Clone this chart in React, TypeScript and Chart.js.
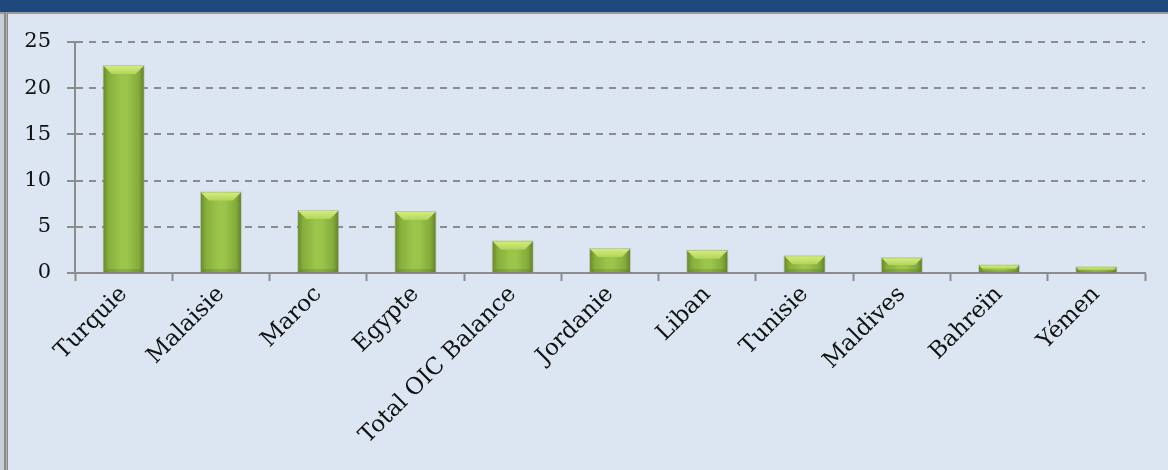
import React, { useEffect, useRef } from "react";
import { Chart, registerables } from "chart.js";

Chart.register(...registerables);

const categories = [
  "Turquie",
  "Malaisie",
  "Maroc",
  "Egypte",
  "Total OIC Balance",
  "Jordanie",
  "Liban",
  "Tunisie",
  "Maldives",
  "Bahreïn",
  "Yémen",
];
const values = [22.4, 8.7, 6.7, 6.6, 3.4, 2.6, 2.4, 1.8, 1.6, 0.8, 0.6];
const yTicks = [0, 5, 10, 15, 20, 25];

const W = 1168;
const H = 470;
const FONT = "'DejaVu Serif', 'Liberation Serif', serif";

const bevelBars = {
  id: "bevelBars",
  afterDatasetsDraw(chart: any) {
    const ctx = chart.ctx as CanvasRenderingContext2D;
    const meta = chart.getDatasetMeta(0);
    meta.data.forEach((bar: any) => {
      const p = bar.getProps(["x", "y", "base", "width"], true);
      const left = p.x - p.width / 2;
      const right = p.x + p.width / 2;
      const top = Math.min(p.y, p.base);
      const bottom = Math.max(p.y, p.base);
      const h = bottom - top;
      const w = right - left;
      ctx.save();
      // soft outline
      ctx.fillStyle = "rgba(110,120,100,0.3)";
      ctx.fillRect(left - 1, top - 1, w + 2, h + 2);
      // body gradient
      const g = ctx.createLinearGradient(left, 0, right, 0);
      g.addColorStop(0, "#6C8B2C");
      g.addColorStop(0.12, "#86AE3C");
      g.addColorStop(0.45, "#9CC64B");
      g.addColorStop(0.6, "#9AC44A");
      g.addColorStop(0.88, "#83AB3A");
      g.addColorStop(1, "#66842A");
      ctx.fillStyle = g;
      ctx.fillRect(left, top, w, h);
      // top bevel
      const b = Math.min(8, h / 2, w / 2);
      const gb = ctx.createLinearGradient(0, top, 0, top + b);
      gb.addColorStop(0, "#D4EC7C");
      gb.addColorStop(1, "#B2D55A");
      ctx.fillStyle = gb;
      ctx.beginPath();
      ctx.moveTo(left, top);
      ctx.lineTo(right, top);
      ctx.lineTo(right - b, top + b);
      ctx.lineTo(left + b, top + b);
      ctx.closePath();
      ctx.fill();
      // bottom slightly darker band
      const bb = Math.min(3, h / 4);
      ctx.fillStyle = "rgba(70,95,25,0.22)";
      ctx.beginPath();
      ctx.moveTo(left, bottom);
      ctx.lineTo(right, bottom);
      ctx.lineTo(right - bb, bottom - bb);
      ctx.lineTo(left + bb, bottom - bb);
      ctx.closePath();
      ctx.fill();
      ctx.restore();
    });
  },
};

export default function App() {
  const ref = useRef<HTMLCanvasElement | null>(null);

  useEffect(() => {
    if (!ref.current) return;
    const chart = new Chart(ref.current, {
      type: "bar",
      data: {
        labels: categories,
        datasets: [
          {
            data: values,
            backgroundColor: "#93BD47",
            borderWidth: 0,
            barPercentage: 0.41,
            categoryPercentage: 1,
          },
        ],
      },
      options: {
        animation: false,
        responsive: true,
        maintainAspectRatio: false,
        layout: { padding: { left: 0, right: 23, top: 42, bottom: 0 } },
        plugins: {
          legend: { display: false },
          tooltip: { enabled: false },
        },
        scales: {
          x: {
            offset: true,
            grid: {
              display: true,
              offset: true,
              drawOnChartArea: false,
              drawTicks: true,
              tickLength: 8,
              tickColor: "#8C8C8C",
              tickWidth: 2,
            },
            border: { display: true, color: "#8C8C8C", width: 2 },
            ticks: {
              color: "#111111",
              font: { family: FONT, size: 23 },
              minRotation: 45,
              maxRotation: 45,
              autoSkip: false,
              padding: 0,
            },
            afterFit: (s: any) => {
              s.height = H - 273;
            },
          },
          y: {
            min: 0,
            max: 25,
            afterBuildTicks: (s: any) => {
              s.ticks = yTicks.map((v) => ({ value: v }));
            },
            grid: {
              color: "#8C8C8C",
              lineWidth: 2,
              drawTicks: true,
              tickLength: 8,
              tickColor: "#8C8C8C",
              tickWidth: 2,
              tickBorderDash: [],
            },
            border: { display: true, color: "#8C8C8C", width: 2, dash: [7, 6] },
            ticks: {
              color: "#111111",
              font: { family: FONT, size: 21 },
              padding: 16,
            },
            afterFit: (s: any) => {
              s.width = 75;
            },
          },
        },
      },
      plugins: [bevelBars],
    });
    return () => chart.destroy();
  }, []);

  return (
    <div
      style={{
        position: "fixed",
        left: 0,
        top: 0,
        width: W,
        height: H,
        background: "#DCE6F2",
        overflow: "hidden",
      }}
    >
      <div style={{ position: "absolute", left: 0, top: 0, width: W, height: 12, background: "#1F497D" }} />
      <div style={{ position: "absolute", left: 0, top: 12, width: W, height: 2, background: "#9A9A9A" }} />
      <div style={{ position: "absolute", left: 0, top: 14, width: 4, height: H - 14, background: "#C8CED6" }} />
      <div style={{ position: "absolute", left: 4, top: 12, width: 2, height: H - 12, background: "#8A8A8A" }} />
      <div style={{ position: "absolute", left: 6, top: 12, width: 1, height: H - 12, background: "#B0B0B0" }} />
      <div style={{ position: "absolute", left: 7, top: 12, width: 1, height: H - 12, background: "#8A8A8A" }} />
      <div style={{ position: "absolute", left: 0, top: 0, width: W, height: H }}>
        <canvas ref={ref} />
      </div>
    </div>
  );
}
